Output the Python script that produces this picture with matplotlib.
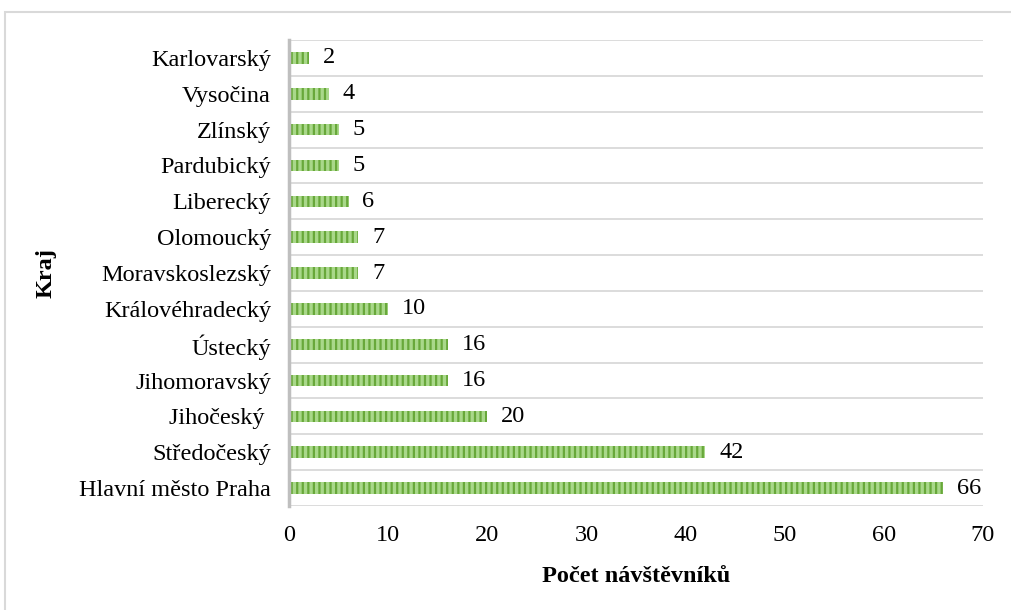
import matplotlib.pyplot as plt
from matplotlib.patches import Rectangle

plt.rcParams['font.family'] = ['Liberation Serif', 'DejaVu Serif']
plt.rcParams['hatch.color'] = '#68a83a'
plt.rcParams['hatch.linewidth'] = 1.6

# data (bottom to top)
kraje = ['Hlavní město Praha', 'Středočeský', 'Jihočeský ', 'Jihomoravský', 'Ústecký',
         'Královéhradecký', 'Moravskoslezský', 'Olomoucký', 'Liberecký', 'Pardubický',
         'Zlínský', 'Vysočina', 'Karlovarský']
pocet = [66, 42, 20, 16, 16, 10, 7, 7, 6, 5, 5, 4, 2]

fs = 17.5

fig = plt.figure(figsize=(10.12, 6.10), dpi=100)
ax = fig.add_axes([0.2856, 0.1705, 0.9713 - 0.2856, 0.9344 - 0.1705])

# outer frame
fig.patches.append(Rectangle((5 / 1012, -0.1), 1.2, 1.1 - 12 / 610,
                             transform=fig.transFigure, fill=False,
                             edgecolor='#d9d9d9', linewidth=1.5))

y = range(len(kraje))
ax.barh(y, pocet, height=0.32, color='#a9d88a', hatch='|||', edgecolor='#68a83a', linewidth=0)

for i, v in enumerate(pocet):
    ax.annotate(str(v), (v, i), xytext=(10, 0), textcoords='offset points',
                va='center', ha='left', fontsize=fs)

ax.set_xlim(0, 70)
ax.set_ylim(-0.5, len(kraje) - 0.5)
ax.set_xticks(range(0, 71, 10))
ax.set_yticks(list(y))
ax.set_yticklabels(kraje)
ax.set_yticks([i - 0.5 for i in range(len(kraje) + 1)], minor=True)
ax.grid(axis='y', which='minor', color='#d9d9d9', linewidth=1.3)
ax.tick_params(axis='both', which='both', length=0, labelsize=fs)
ax.tick_params(axis='x', pad=14)
ax.tick_params(axis='y', pad=13)

for s in ['top', 'right', 'bottom']:
    ax.spines[s].set_visible(False)
ax.spines['left'].set_color('#bfbfbf')
ax.spines['left'].set_linewidth(2.5)

ax.set_xlabel('Počet návštěvníků', fontsize=fs, fontweight='bold', labelpad=14)
ax.set_ylabel('Kraj', fontsize=fs, fontweight='bold', labelpad=16)

fig.savefig('out.png', dpi=100)
